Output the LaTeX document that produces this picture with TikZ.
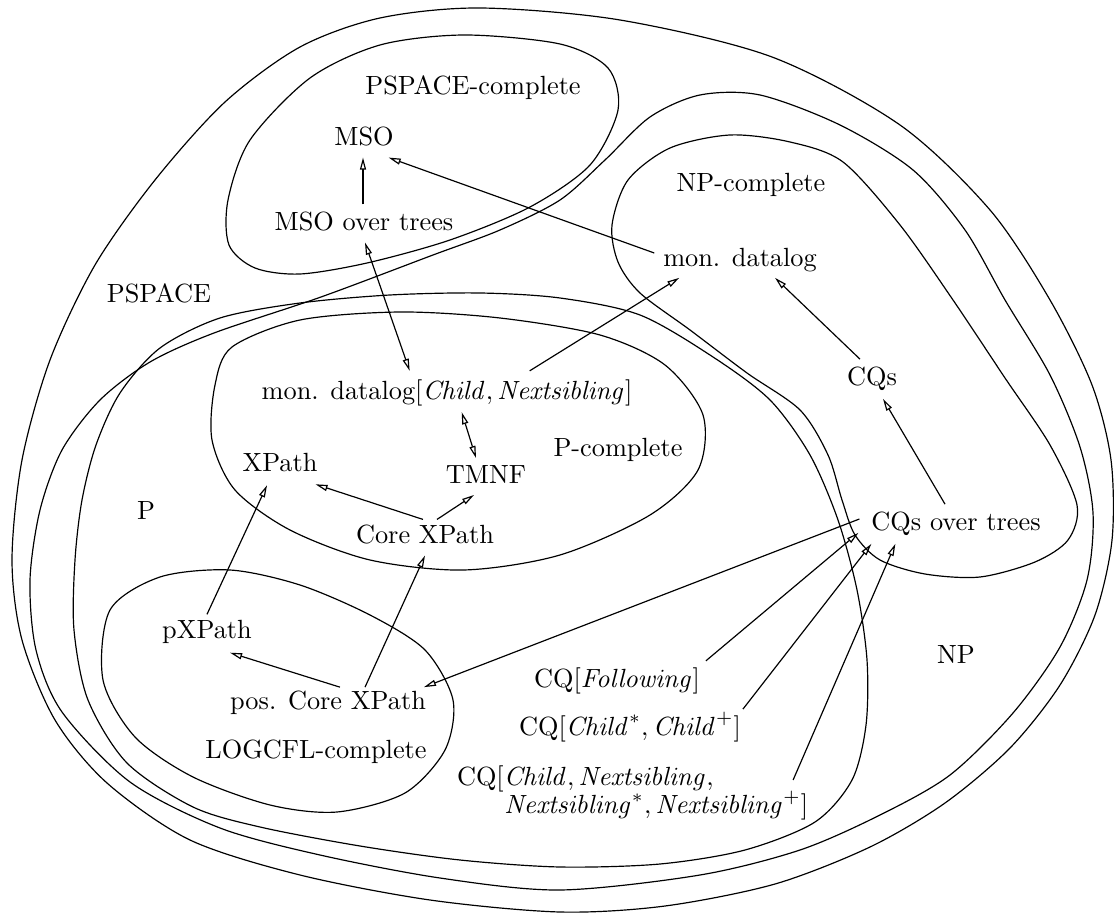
\documentclass[tikz,border=0pt]{standalone}
\usetikzlibrary{arrows.meta,calc}
\begin{document}
\begin{tikzpicture}[x=0.38pt,y=-0.38pt,
  region/.style={line width=0.45pt},
  lbl/.style={inner sep=0pt,outer sep=0pt},
  arr/.style={line width=0.45pt,-{Triangle[open,length=4.6pt,width=2.3pt]}},
  darr/.style={line width=0.45pt,{Triangle[open,length=4.6pt,width=2.3pt]}-{Triangle[open,length=4.6pt,width=2.3pt]}}]
\useasboundingbox (0,0) rectangle (1114,916);

% PSPACE
\draw[region] plot[smooth cycle] coordinates {
  (480,8) (620,20) (772,57) (900,125) (990,210) (1050,300) (1092,385)
  (1111,460) (1112,540) (1095,615) (1060,685) (1010,748) (945,803)
  (870,847) (775,884) (665,906) (560,912) (430,900) (300,875) (190,840)
  (107,783) (55,720) (22,640) (12,560) (22,460) (50,360) (95,265)
  (155,180) (225,102) (300,47) (380,18)};
% NP
\draw[region] plot[smooth cycle] coordinates {
  (560,200) (605,160) (650,117) (700,95) (760,95) (840,125) (913,170)
  (965,230) (1005,300) (1050,375) (1080,447) (1093,513) (1087,580)
  (1060,647) (1013,713) (950,775) (880,815) (800,850) (700,875)
  (560,890) (440,878) (320,855) (220,828) (130,782) (62,712) (36,650)
  (30,580) (40,510) (62,450) (100,400) (150,362) (214,333) (321,297)
  (433,255) (500,230)};
% P
\draw[region] plot[smooth cycle] coordinates {
  (480,293) (560,298) (640,315) (713,357) (770,400) (810,455) (838,520)
  (857,590) (867,660) (866,725) (852,780) (815,822) (745,850) (660,864)
  (560,867) (460,860) (360,846) (260,827) (193,807) (127,763) (88,700)
  (74,630) (75,560) (82,500) (96,445) (120,393) (160,348) (220,318)
  (300,303) (390,295)};
% PSPACE-complete
\draw[region] plot[smooth cycle] coordinates {
  (310,78) (380,45) (464,35) (560,44) (608,68) (618,110) (590,165)
  (530,207) (450,240) (367,263) (300,274) (255,268) (229,245) (228,200)
  (250,140)};
% NP-complete
\draw[region] plot[smooth cycle] coordinates {
  (612,225) (628,180) (670,148) (730,135) (790,142) (843,162) (900,225)
  (953,300) (1005,378) (1050,445) (1077,505) (1068,540) (1035,562)
  (980,577) (925,574) (880,560) (855,535) (842,500) (828,455) (800,410)
  (747,373) (690,330) (640,293) (618,262)};
% P-complete
\draw[region] plot[smooth cycle] coordinates {
  (232,347) (300,320) (400,312) (500,318) (600,335) (665,365) (703,415)
  (698,470) (650,515) (560,555) (464,570) (370,560) (290,530) (235,490)
  (212,440) (215,385)};
% LOGCFL-complete
\draw[region] plot[smooth cycle] coordinates {
  (110,610) (160,577) (230,570) (300,585) (370,615) (425,650) (453,700)
  (445,750) (405,793) (337,812) (270,805) (193,777) (135,737) (103,680)};

% labels
\node[lbl] (psc) at (473,88) {PSPACE-complete};
\node[lbl] (mso) at (364,137) {MSO};
\node[lbl] (mot) at (364,222) {MSO over trees};
\node[lbl] (npcl) at (751,185) {NP-complete};
\node[lbl] (md) at (740,260) {mon. datalog};
\node[lbl] (ps) at (159,293) {PSPACE};
\node[lbl] (mdc) at (447,393) {mon. datalog$[\mathit{Child}, \mathit{Nextsibling}]$};
\node[lbl] (cqs) at (872,379) {CQs};
\node[lbl] (pcl) at (618,450) {P-complete};
\node[lbl] (xp) at (280,463) {XPath};
\node[lbl] (tm) at (486,475) {TMNF};
\node[lbl] (pl) at (146,511) {P};
\node[lbl] (cx) at (425,535) {Core XPath};
\node[lbl] (cqt) at (956,524) {CQs over trees};
\node[lbl] (pxp) at (207,632) {pXPath};
\node[lbl] (npl) at (956,655) {NP};
\node[lbl] (cqf) at (617,681) {CQ$[\mathit{Following}]$};
\node[lbl] (pcx) at (328,703) {pos. Core XPath};
\node[lbl] (cqc) at (630,727) {CQ$[\mathit{Child}^*, \mathit{Child}^+]$};
\node[lbl] (lc) at (316,752) {LOGCFL-complete};
\node[lbl,anchor=west,align=left] (cqn) at (457,793)
  {CQ$[\mathit{Child}, \mathit{Nextsibling},$\\[-1.2pt]
   \hspace*{18pt}$\mathit{Nextsibling}^*, \mathit{Nextsibling}^+]$};

% reductions
\draw[arr] ($(mot.north)+(-1,-8)$) -- ($(mso.south)+(-1,11)$);
\draw[arr] ($(md.west)+(-9,-7)$) -- ($(mso.south east)+(-5,11)$);
\draw[darr] ($(mot.south)+(1,11)$) -- ($(mdc.north west)+(148,-9)$);
\draw[arr] ($(mdc.north west)+(268,-9)$) -- ($(md.south west)+(16,6)$);
\draw[darr] ($(mdc.south west)+(200,6)$) -- ($(tm.north)+(-10,-8)$);
\draw[arr] ($(cx.north)+(-2,-6)$) -- ($(xp.south east)+(-2,12)$);
\draw[arr] ($(cx.north)+(12,-6)$) -- ($(tm.south)+(-12,11)$);
\draw[arr] ($(pxp.north)+(0,-6)$) -- ($(xp.south)+(-13,13)$);
\draw[arr] ($(pcx.north)+(12,-4)$) -- ($(pxp.south)+(23,9)$);
\draw[arr] ($(pcx.north)+(37,-4)$) -- ($(cx.south)+(0,11)$);
\draw[arr] ($(cqt.west)+(-12,-5)$) -- ($(pcx.north east)+(-2,-4)$);
\draw[arr] ($(cqt.north)+(-11,-8)$) -- ($(cqs.south)+(11,8)$);
\draw[arr] ($(cqs.north)+(-12,-8)$) -- ($(md.south)+(35,6)$);
\draw[arr] ($(cqf.north east)+(6,-7)$) -- ($(cqt.south west)+(-13,-3)$);
\draw[arr] ($(cqc.north east)+(2,-3)$) -- ($(cqt.south west)+(0,8)$);
\draw[arr] ($(cqn.east)+(-15,-13)$) -- ($(cqt.south west)+(24,8)$);
\end{tikzpicture}
\end{document}
